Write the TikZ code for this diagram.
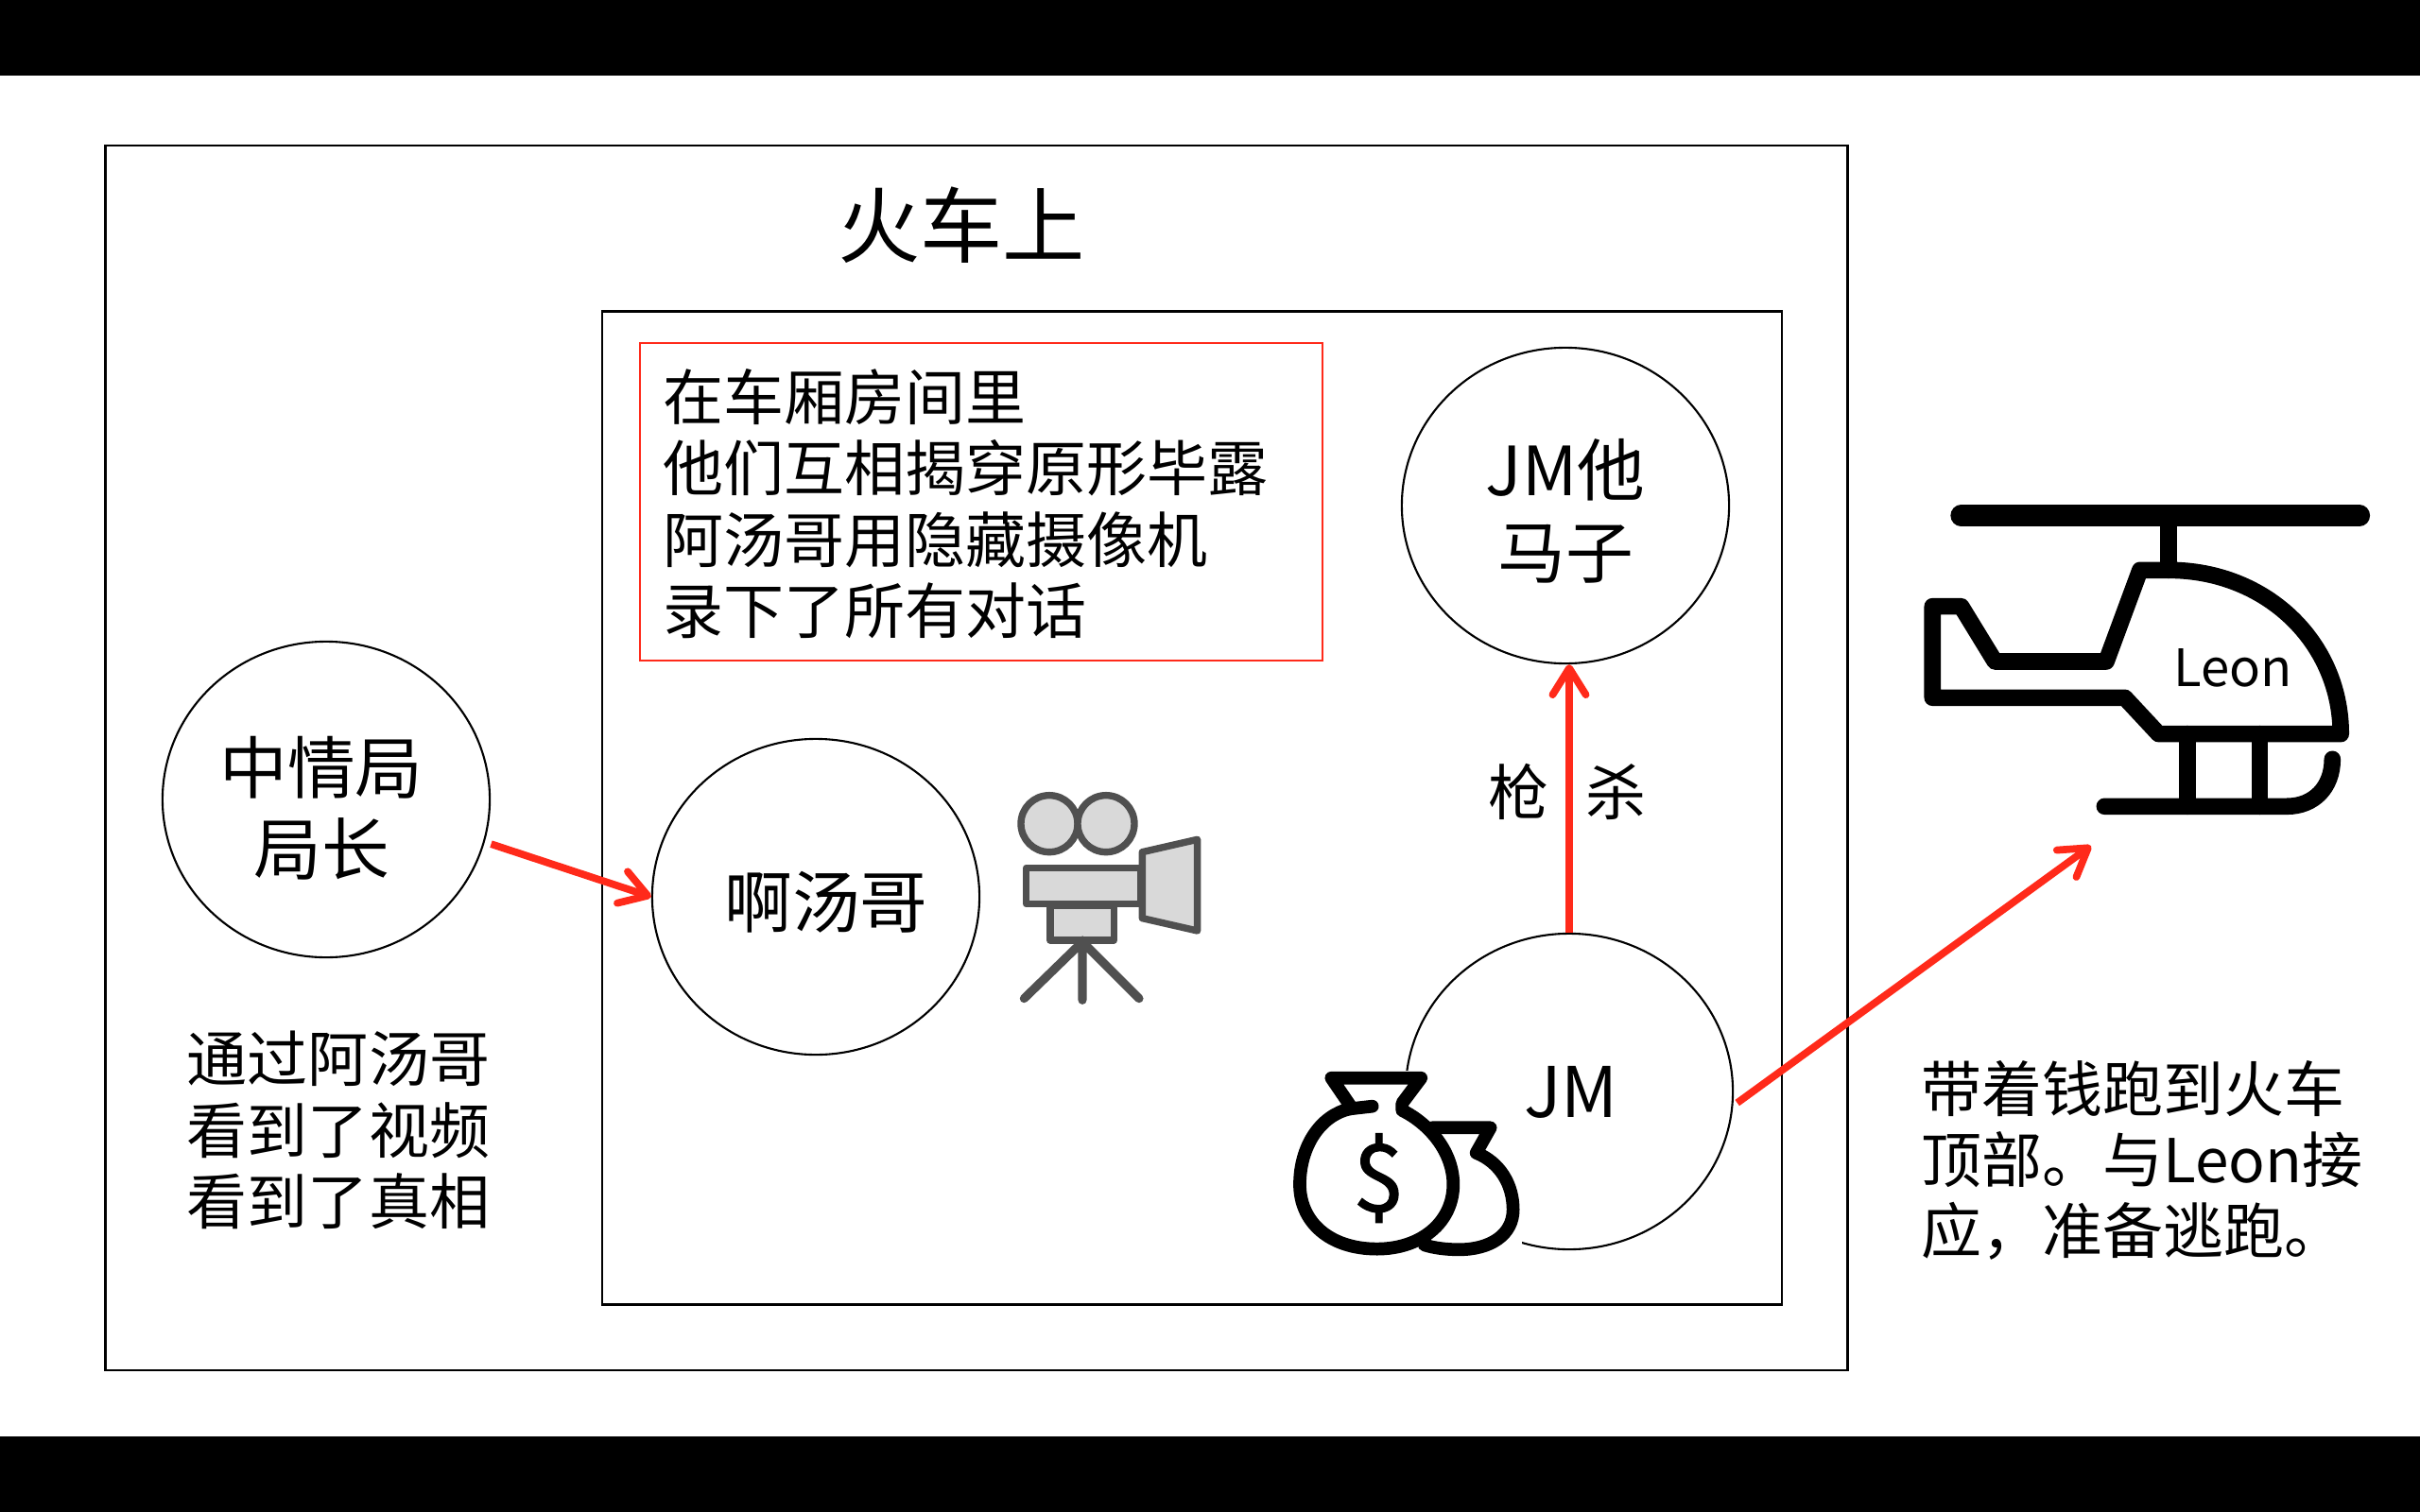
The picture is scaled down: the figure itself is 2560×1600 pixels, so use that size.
\documentclass[tikz,border=0pt]{standalone}
\usepackage{xcolor}
\usepackage{fontspec}
\setmainfont{Noto Sans CJK SC}
\newfontfamily\dollarfont[FakeBold=1.2]{Noto Sans CJK SC}
\usetikzlibrary{arrows.meta,shapes.geometric}
\definecolor{arrowred}{HTML}{FF2A1A}
\definecolor{camdark}{HTML}{505050}
\definecolor{camfill}{HTML}{D9D9D9}
\tikzset{
  person/.style={draw,ellipse,line width=0.6pt,inner sep=0pt,minimum width=3.46cm,minimum height=3.34cm},
  personname/.style={align=center,font=\fontsize{20.4}{24.6}\selectfont},
  frame/.style={draw,line width=0.7pt},
  note/.style={align=left,font=\fontsize{18.2}{21.4}\selectfont},
  redarrow/.style={arrowred,line width=2.2pt,-{Straight Barb[length=8pt,width=10pt,round]}},
  heli/.style={line width=5pt,line cap=round,line join=round},
  bag/.style={line width=3.9pt,line join=round,line cap=round,fill=white},
  cam/.style={camdark,line width=2.1pt,fill=camfill,line join=round},
}
\begin{document}
\begin{tikzpicture}[x=0.01cm,y=-0.01cm]
\useasboundingbox (0,0) rectangle (2560,1600);
\fill[black] (0,0) rectangle (2560,80);
\fill[black] (0,1520) rectangle (2560,1600);
%frames
\node[frame,minimum width=18.42cm,minimum height=12.95cm,inner sep=0pt] (train) at (1033,802) {};
\node[frame,minimum width=12.47cm,minimum height=10.5cm,inner sep=0pt] (room) at (1261,855) {};
\node[font=\fontsize{24.8}{28}\selectfont] (title) at (1017,238) {火车上};
\node[draw=arrowred,line width=0.6pt,minimum width=7.21cm,minimum height=3.36cm,inner sep=0pt] (story) at (1038,531) {};
\node[note,anchor=west,inner sep=0pt] (storytext) at (701,533) {在车厢房间里\\他们互相揭穿原形毕露\\阿汤哥用隐藏摄像机\\录下了所有对话};
%people
\node[person] (chief) at (345,846) {};
\node[person] (atang) at (863,949) {};
\node[person] (jmgf) at (1656,535) {};
\node[person] (jm) at (1660,1155) {};
\node[personname] (chiefname) at (340,855) {中情局\\局长};
\node[personname] (atangname) at (874,955) {啊汤哥};
\node[personname] (jmgfname) at (1656,541) {JM他\\马子};
\node[note] (chiefnote) at (358,1196) {通过阿汤哥\\看到了视频\\看到了真相};
\node[note] (jmnote) at (2266,1228) {带着钱跑到火车\\顶部。与Leon接\\应，准备逃跑。};
\node[font=\fontsize{18.2}{21.4}\selectfont] (kill) at (1658,838) {枪\hspace{0.62em}杀};
%money bags
\fill[white] (1365,1133) rectangle (1610,1330);
\begin{scope}[shift={(1340,1080)},scale=0.3333]
\draw[bag] (525,340)--(710,340)--(665,420) .. controls (740,450) and (782,520) .. (782,600) .. controls (782,680) and (710,727) .. (610,727) .. controls (570,727) and (530,722) .. (500,712)--cycle;
\draw[bag] (205,182)--(490,182)--(430,262)--(430,285) .. controls (520,330) and (592,420) .. (592,520) .. controls (592,640) and (490,725) .. (350,725) .. controls (200,725) and (105,640) .. (105,520) .. controls (105,400) and (170,300) .. (265,280)--(265,270)--cycle;
\draw[line width=3.9pt,line cap=round] (265,280)--(335,272);
\node[font=\fontsize{28}{30}\selectfont\dollarfont] (dollar) at (355,500) {\$};
\end{scope}
\node[font=\fontsize{21}{24}\selectfont] (jmname) at (1662,1156) {JM};
%camera
\begin{scope}[shift={(1050,820)},scale=0.3333]
\draw[cam] (180,155) circle (90);
\draw[cam] (360,155) circle (90);
\draw[cam] (107,295) rectangle (470,410);
\draw[cam] (183,415) rectangle (385,525);
\draw[cam] (475,245)--(650,205)--(650,495)--(475,455)--cycle;
\draw[camdark,line width=2.6pt,line cap=round] (100,710)--(285,530)--(465,710) (285,530)--(285,715);
\end{scope}
%helicopter
\begin{scope}[shift={(1980,500)},xscale=0.357,yscale=0.3333]
\draw[line width=6.4pt,line cap=round] (265,137)--(1445,137);
\draw[heli] (880,137)--(880,310);
\draw[heli] (180,425)--(265,425)--(365,600)--(695,600)--(795,310)--(880,310) .. controls (1170,310) and (1390,540) .. (1390,830)--(850,830)--(750,715)--(180,715)--cycle;
\draw[heli] (935,830)--(935,1060);
\draw[heli] (1150,830)--(1150,1060);
\draw[heli] (690,1060)--(1230,1060) .. controls (1310,1060) and (1365,1000) .. (1365,910);
\node[font=\fontsize{15.5}{18}\selectfont] (leon) at (1070,620) {Leon};
\end{scope}
\coordinate (heliend) at (2212,895);
%arrows
\draw[redarrow,shorten <=2pt] (chief.-15)--(atang.west);
\draw[redarrow] (jm.north)--(jm.north |- jmgf.south);
\draw[redarrow,shorten <=1.5pt] (jm.-5)--(heliend);
\end{tikzpicture}
\end{document}
